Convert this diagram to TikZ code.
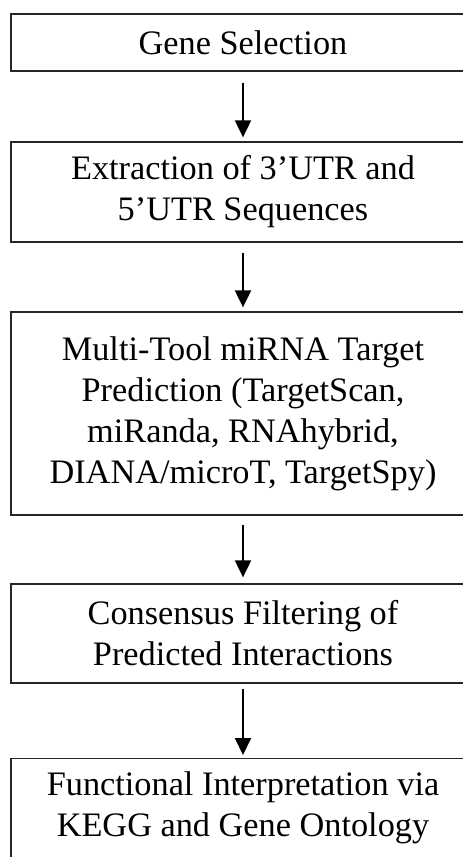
\documentclass[tikz,border=0pt]{standalone}
\usepackage{fontspec}
\setmainfont{Liberation Serif}
\usetikzlibrary{arrows.meta}
\tikzset{
  stepbox/.style={draw=black!85, line width=1.3pt, minimum width=464pt, inner sep=0pt,
    align=center, font=\fontsize{34.3}{41}\selectfont},
  plaintext/.style={inner sep=0pt, align=center, font=\fontsize{34.3}{41}\selectfont},
  arr/.style={-{Triangle[width=16pt,length=17pt]}, line width=2pt, black}
}
\begin{document}
\begin{tikzpicture}[x=1pt,y=1pt]
\useasboundingbox (0,0) rectangle (463,-857);
\clip (0,0) rectangle (463,-857);
\fill[white] (0,0) rectangle (463,-857);
\node[stepbox, minimum height=57pt] (b1) at (243,-42.5) {Gene Selection};
\node[stepbox, minimum height=100pt] (b2) at (243,-192) {Extraction of 3’UTR and\\5’UTR Sequences};
\node[stepbox, minimum height=203pt] (b3) at (243,-413.5) {Multi-Tool miRNA Target\\Prediction (TargetScan,\\miRanda, RNAhybrid,\\DIANA/microT, TargetSpy)};
\node[stepbox, minimum height=99pt] (b4) at (243,-633.5) {Consensus Filtering of\\Predicted Interactions};
\node[stepbox, minimum height=140pt, anchor=north] (b5) at (243,-758) {};
\node[plaintext] (t5) at (243,-808) {Functional Interpretation via\\KEGG and Gene Ontology};
\draw[arr, shorten <=11pt, shorten >=4pt] (b1.south) -- (b2.north);
\draw[arr, shorten <=10pt, shorten >=4pt] (b2.south) -- (b3.north);
\draw[arr, shorten <=9pt, shorten >=6pt] (b3.south) -- (b4.north);
\draw[arr, shorten <=5pt, shorten >=3pt] (b4.south) -- (b5.north);
\end{tikzpicture}
\end{document}
